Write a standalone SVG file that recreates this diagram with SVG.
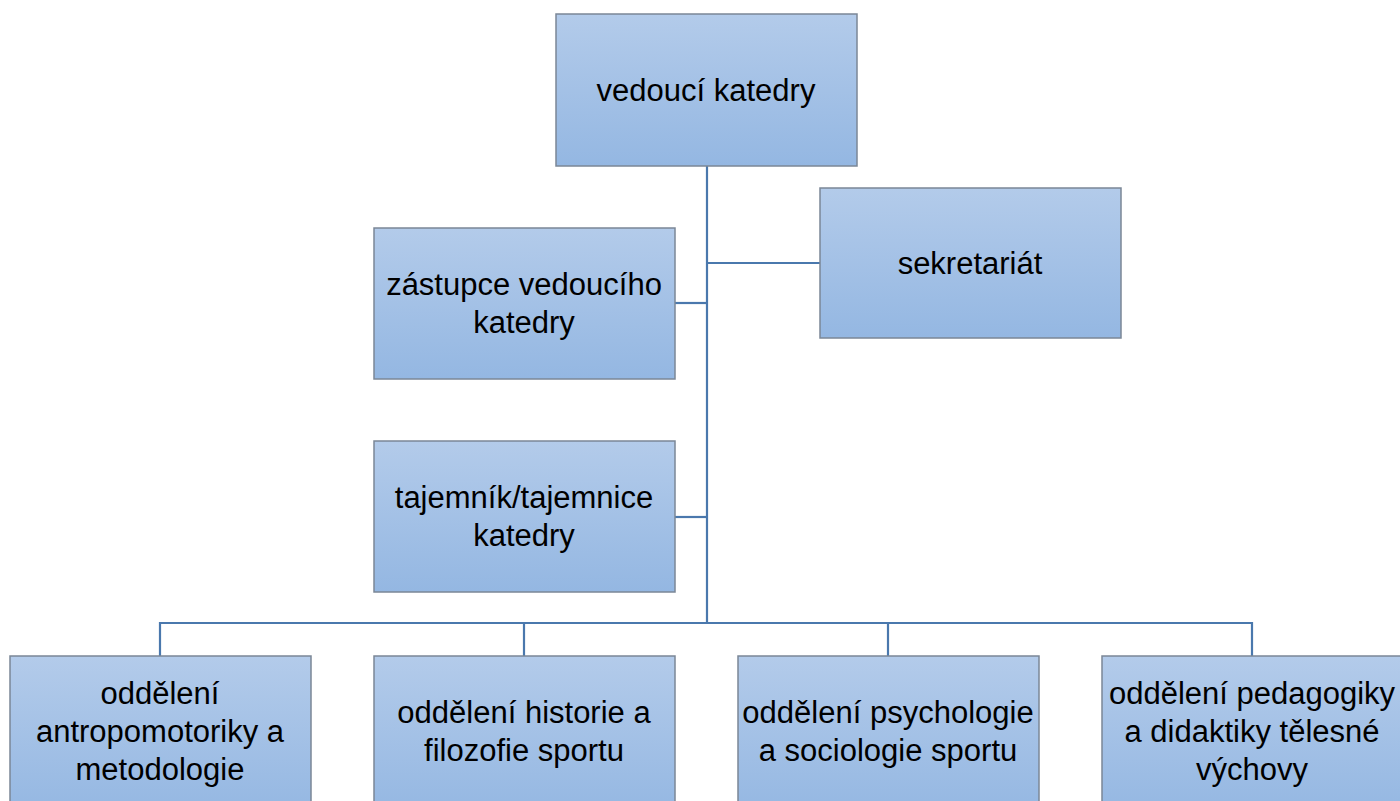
<svg xmlns="http://www.w3.org/2000/svg" width="1400" height="801" viewBox="0 0 1400 801">
<defs>
<linearGradient id="g" x1="0" y1="0" x2="0" y2="1">
<stop offset="0" stop-color="#b3cbea"/>
<stop offset="1" stop-color="#94b7e2"/>
</linearGradient>
</defs>
<style>
.box{fill:url(#g);stroke:#7b8796;stroke-width:1.5}
.t{font-family:"Liberation Sans",Arial,sans-serif;font-size:31px;fill:#000;text-anchor:middle}
.c{fill:none;stroke:#4a78ad;stroke-width:2.2}
</style>
<rect width="1400" height="801" fill="#fff"/>
<g id="connectors">
<path class="c" d="M707 166 V623"/>
<path class="c" d="M707 263 H820"/>
<path class="c" d="M675 303 H707"/>
<path class="c" d="M675 517 H707"/>
<path class="c" d="M160 656 V623 H1252 V656"/>
<path class="c" d="M524 623 V656"/>
<path class="c" d="M888 623 V656"/>
</g>
<g id="n1"><rect class="box" x="556" y="14" width="301" height="152"/><text class="t" x="706" y="101">vedoucí katedry</text></g>
<g id="n2"><rect class="box" x="820" y="188" width="301" height="150"/><text class="t" x="970" y="274">sekretariát</text></g>
<g id="n3"><rect class="box" x="374" y="228" width="301" height="151"/><text class="t" x="524" y="295">zástupce vedoucího</text><text class="t" x="524" y="333">katedry</text></g>
<g id="n4"><rect class="box" x="374" y="441" width="301" height="151"/><text class="t" x="524" y="508">tajemník/tajemnice</text><text class="t" x="524" y="546">katedry</text></g>
<g id="n5"><rect class="box" x="10" y="656" width="301" height="160"/><text class="t" x="160" y="704">oddělení</text><text class="t" x="160" y="742">antropomotoriky a</text><text class="t" x="160" y="780">metodologie</text></g>
<g id="n6"><rect class="box" x="374" y="656" width="301" height="160"/><text class="t" x="524" y="723">oddělení historie a</text><text class="t" x="524" y="761">filozofie sportu</text></g>
<g id="n7"><rect class="box" x="738" y="656" width="301" height="160"/><text class="t" x="888" y="723">oddělení psychologie</text><text class="t" x="888" y="761">a sociologie sportu</text></g>
<g id="n8"><rect class="box" x="1102" y="656" width="301" height="160"/><text class="t" x="1252" y="704">oddělení pedagogiky</text><text class="t" x="1252" y="742">a didaktiky tělesné</text><text class="t" x="1252" y="780">výchovy</text></g>
</svg>
